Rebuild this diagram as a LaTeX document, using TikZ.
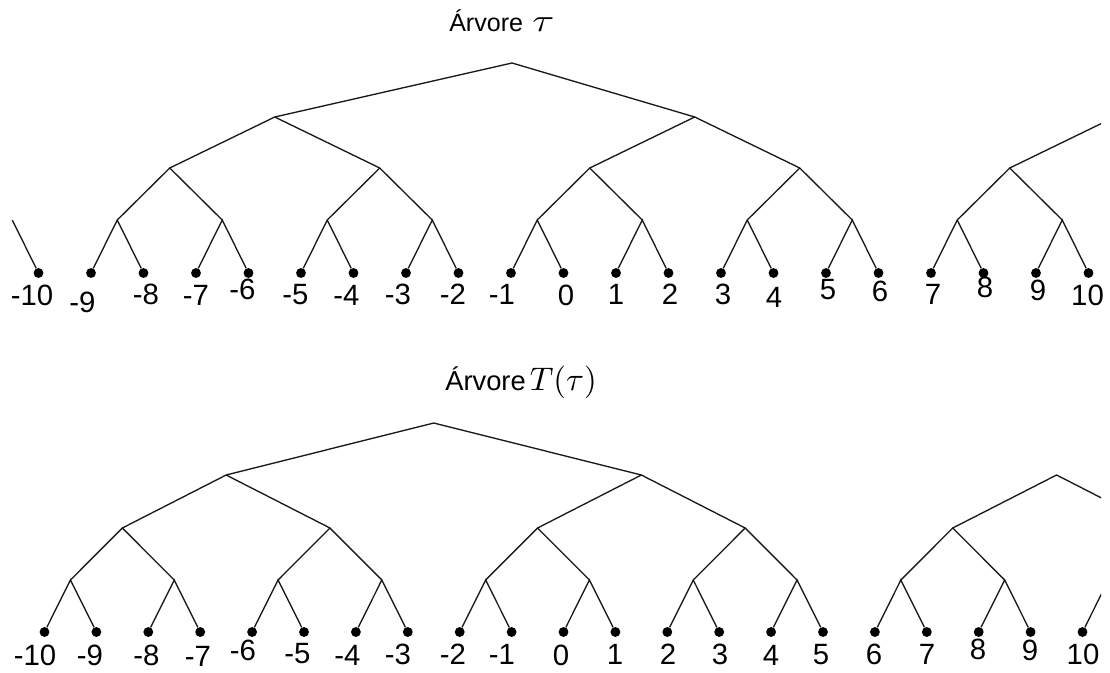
\documentclass[tikz,border=0pt]{standalone}
\usepackage{fontspec}
\setmainfont{Liberation Sans}
\usepackage{graphicx}
\begin{document}
\begin{tikzpicture}[x=0.75pt,y=-0.75pt,
  edge/.style={line width=1pt, draw=black!90},
  leaf/.style={circle, fill=black, inner sep=0pt, minimum size=7.4pt},
  num/.style={anchor=base, inner sep=0pt, font=\fontsize{22}{25}\selectfont},
  title/.style={anchor=base west, inner sep=0pt, font=\fontsize{18.8}{22}\selectfont}]
\useasboundingbox (0,0) rectangle (1110,672);

\begin{scope}
\clip (0,0) rectangle (1101,672);

% ---------- upper tree ----------
\coordinate (tr) at (512,63);
\foreach \n in {1,2,3} \coordinate (ta\n) at ({274.75+420*(\n-1)},117);
\foreach \m in {1,...,5} \coordinate (tb\m) at ({169.75+210*(\m-1)},168);
\foreach \j in {0,...,10} \coordinate (tc\j) at ({12.25+105*\j},220);
\foreach \k in {0,...,20} \node[leaf] (tl\k) at ({38.5+52.5*\k},273) {};

\draw[edge] (ta1) -- (tr) -- (ta2);
\draw[edge] (tb1) -- (ta1) -- (tb2);
\draw[edge] (tb3) -- (ta2) -- (tb4);
\draw[edge] (tb5) -- (ta3);
\foreach \m in {1,...,5} {
  \pgfmathtruncatemacro\a{2*\m-1}
  \pgfmathtruncatemacro\b{2*\m}
  \draw[edge] (tc\a) -- (tb\m) -- (tc\b);
}
\draw[edge] (tc0) -- (tl0);
\foreach \j in {1,...,10} {
  \pgfmathtruncatemacro\a{2*\j-1}
  \pgfmathtruncatemacro\b{2*\j}
  \draw[edge] (tl\a) -- (tc\j) -- (tl\b);
}

% ---------- lower tree ----------
\coordinate (br) at (433.75,423);
\foreach \n in {1,2,3} \coordinate (ba\n) at ({226.15+415.2*(\n-1)},475);
\foreach \m in {1,...,6} \coordinate (bb\m) at ({122.35+207.6*(\m-1)},528);
\foreach \j in {0,...,10} \coordinate (bc\j) at ({70.45+103.8*\j},580);
\foreach \k in {0,...,20} \node[leaf] (bl\k) at ({44.5+51.9*\k},632) {};

\draw[edge] (ba1) -- (br) -- (ba2);
\draw[edge] (bb1) -- (ba1) -- (bb2);
\draw[edge] (bb3) -- (ba2) -- (bb4);
\draw[edge] (bb5) -- (ba3) -- (bb6);
\foreach \m in {1,...,5} {
  \pgfmathtruncatemacro\a{2*\m-2}
  \pgfmathtruncatemacro\b{2*\m-1}
  \draw[edge] (bc\a) -- (bb\m) -- (bc\b);
}
\foreach \j in {0,...,9} {
  \pgfmathtruncatemacro\a{2*\j}
  \pgfmathtruncatemacro\b{2*\j+1}
  \draw[edge] (bl\a) -- (bc\j) -- (bl\b);
}
\draw[edge] (bc10) -- (bl20);
\end{scope}

% ---------- titles ----------
\node[title] (ttop) at (449,31.7)
  {Árvore\hspace{7pt}\scalebox{3.0}[2.4]{\normalsize$\tau$}};
\node[title, font=\fontsize{20.5}{24}\selectfont] (tbot) at (445,390)
  {Árvore\hspace{3pt}\scalebox{2.45}{\normalsize$T(\tau)$}};

% ---------- leaf labels ----------
\foreach \k/\x/\y/\t in {
  0/32/305.5/-10, 1/82.5/312.5/-9, 2/146/304/-8, 3/196/305.5/-7,
  4/242.5/299/-6, 5/295.5/304/-5, 6/346.5/305.5/-4, 7/398/304/-3,
  8/453/304/-2, 9/502/304/-1, 10/566/305.5/0, 11/616/304/1,
  12/670/304/2, 13/723/304/3, 14/774/307/4, 15/828/299/5,
  16/880/301.5/6, 17/933/304/7, 18/985/297/8, 19/1038/300.5/9,
  20/1087.5/305.5/10}
  \node[num] (tn\k) at (\x,\y) {\t};

\foreach \k/\x/\y/\t in {
  0/35/665.5/-10, 1/90/665.5/-9, 2/146.5/665.5/-8, 3/198/666.5/-7,
  4/243/660.5/-6, 5/297.5/663/-5, 6/347.5/665.5/-4, 7/398/664/-3,
  8/453/664/-2, 9/502/664/-1, 10/561/665.5/0, 11/615/664/1,
  12/668/664/2, 13/720/664/3, 14/771/665.5/4, 15/821/664/5,
  16/874/664/6, 17/927/664/7, 18/978/659/8, 19/1030/660.5/9,
  20/1083/664/10}
  \node[num] (bn\k) at (\x,\y) {\t};
\end{tikzpicture}
\end{document}
